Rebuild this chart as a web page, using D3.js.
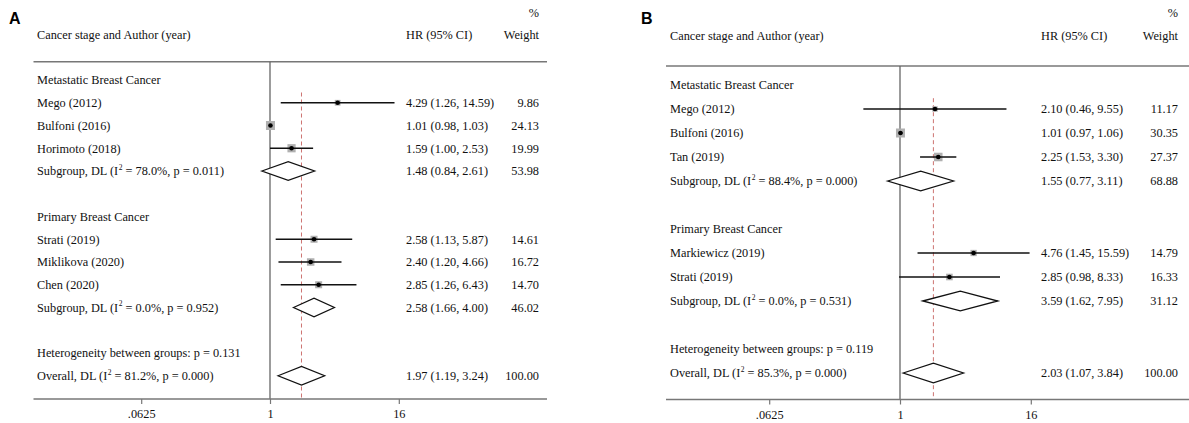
<!DOCTYPE html>
<html><head><meta charset="utf-8">
<script src="https://cdn.jsdelivr.net/npm/d3@7"></script>
<style>
html,body{margin:0;padding:0;background:#fff;}
svg{display:block;}
</style>
</head><body>
<svg id="chart" width="1189" height="423"></svg>
<script>
// ---------- data ----------
const groupNames = ["Metastatic Breast Cancer", "Primary Breast Cancer"];
const tickValues = [0.0625, 1, 16];
const tickLabels = [".0625", "1", "16"];

// Panel A
const aStudies = ["Mego (2012)", "Bulfoni (2016)", "Horimoto (2018)", "Strati (2019)", "Miklikova (2020)", "Chen (2020)"];
const aGroup   = [0, 0, 0, 1, 1, 1];
const aHR      = [4.29, 1.01, 1.59, 2.58, 2.40, 2.85];
const aLow     = [1.26, 0.98, 1.00, 1.13, 1.20, 1.26];
const aHigh    = [14.59, 1.03, 2.53, 5.87, 4.66, 6.43];
const aWeight  = [9.86, 24.13, 19.99, 14.61, 16.72, 14.70];
const aSubHR     = [1.48, 2.58];
const aSubLow    = [0.84, 1.66];
const aSubHigh   = [2.61, 4.00];
const aSubWeight = [53.98, 46.02];
const aSubI2     = ["78.0%", "0.0%"];
const aSubP      = ["0.011", "0.952"];
const aOverall   = [1.97, 1.19, 3.24];   // HR, low, high
const aOverallWeight = 100.00;
const aOverallI2 = "81.2%";
const aOverallP  = "0.000";
const aHetP      = "0.131";

// Panel B
const bStudies = ["Mego (2012)", "Bulfoni (2016)", "Tan (2019)", "Markiewicz (2019)", "Strati (2019)"];
const bGroup   = [0, 0, 0, 1, 1];
const bHR      = [2.10, 1.01, 2.25, 4.76, 2.85];
const bLow     = [0.46, 0.97, 1.53, 1.45, 0.98];
const bHigh    = [9.55, 1.06, 3.30, 15.59, 8.33];
const bWeight  = [11.17, 30.35, 27.37, 14.79, 16.33];
const bSubHR     = [1.55, 3.59];
const bSubLow    = [0.77, 1.62];
const bSubHigh   = [3.11, 7.95];
const bSubWeight = [68.88, 31.12];
const bSubI2     = ["88.4%", "0.0%"];
const bSubP      = ["0.000", "0.531"];
const bOverall   = [2.03, 1.07, 3.84];
const bOverallWeight = 100.00;
const bOverallI2 = "85.3%";
const bOverallP  = "0.000";
const bHetP      = "0.119";

// ---------- drawing ----------
const svg = d3.select("#chart");
const FONT = "'Liberation Serif','Times New Roman',serif";
const FS = 12.3;
const f2 = d3.format(".2f");

function buildRows(studies, group, hr, low, high, weight, subHR, subLow, subHigh, subW, subI2, subP, overall, overallW, overallI2, overallP, hetP) {
  const rows = [];
  groupNames.forEach((g, gi) => {
    rows.push({type: "group", label: g});
    studies.forEach((s, i) => {
      if (group[i] === gi) rows.push({type: "study", label: s, hr: hr[i], low: low[i], high: high[i], w: weight[i]});
    });
    rows.push({type: "sub", i2: subI2[gi], p: subP[gi], hr: subHR[gi], low: subLow[gi], high: subHigh[gi], w: subW[gi]});
    if (gi < groupNames.length - 1) rows.push({type: "blank"});
  });
  rows.push({type: "blank"});
  rows.push({type: "het", label: "Heterogeneity between groups: p = " + hetP});
  rows.push({type: "overall", i2: overallI2, p: overallP, hr: overall[0], low: overall[1], high: overall[2], w: overallW});
  return rows;
}

function drawPanel(rows, cfg) {
  const g = svg.append("g");
  const x = d3.scaleLog().base(2).domain([tickValues[0], tickValues[tickValues.length - 1]]).range(cfg.range);
  const y = i => cfg.row0 + i * cfg.step;
  const maxW = d3.max(rows.filter(r => r.type === "study"), r => r.w);
  const overallRow = rows.find(r => r.type === "overall");

  // panel letter
  g.append("text").attr("x", cfg.letterX).attr("y", 23.5)
    .attr("font-family", "'Liberation Sans',Arial,sans-serif").attr("font-weight", "bold")
    .attr("font-size", 16).attr("fill", "#000").text(cfg.letter);

  const txt = (xx, yy, s, anchor) => g.append("text").attr("x", xx).attr("y", yy).attr("dy", "0.35em")
      .attr("font-family", FONT).attr("font-size", FS).attr("fill", "#111")
      .attr("text-anchor", anchor || "start").text(s);

  // headers
  txt(cfg.labelX, cfg.headY, "Cancer stage and Author (year)");
  txt(cfg.hrX, cfg.headY, "HR (95% CI)");
  txt(cfg.wRight, cfg.headY, "Weight", "end");
  txt(cfg.wRight, 13, "%", "end");

  // top rule
  g.append("line").attr("x1", cfg.left).attr("x2", cfg.right).attr("y1", cfg.topY).attr("y2", cfg.topY)
    .attr("stroke", "#777").attr("stroke-width", 1.5);

  // null line
  g.append("line").attr("x1", x(1)).attr("x2", x(1)).attr("y1", cfg.topY).attr("y2", cfg.axisY)
    .attr("stroke", "#666").attr("stroke-width", 1.3);
  // overall dashed line
  g.append("line").attr("x1", x(overallRow.hr)).attr("x2", x(overallRow.hr))
    .attr("y1", y(1) - cfg.step * 0.45).attr("y2", cfg.axisY)
    .attr("stroke", "#c0504d").attr("stroke-opacity", 0.8).attr("stroke-width", 1).attr("stroke-dasharray", "4,3");

  // axis
  const axis = d3.axisBottom(x).tickValues(tickValues)
    .tickFormat((d, i) => tickLabels[i]).tickSizeOuter(0).tickSize(5);
  const ag = g.append("g").attr("transform", `translate(0,${cfg.axisY})`).call(axis);
  ag.select(".domain").remove();
  ag.selectAll(".tick line").attr("stroke", "#777").attr("stroke-width", 1.2);
  ag.selectAll(".tick text").attr("font-family", FONT).attr("font-size", FS).attr("fill", "#111").attr("dy", "0.9em");
  g.append("line").attr("x1", cfg.left).attr("x2", cfg.right).attr("y1", cfg.axisY).attr("y2", cfg.axisY)
    .attr("stroke", "#777").attr("stroke-width", 1.5);

  rows.forEach((r, i) => {
    const yy = y(i);
    if (r.type === "group" || r.type === "het") {
      txt(cfg.labelX, yy, r.label);
    } else if (r.type === "study") {
      txt(cfg.labelX, yy, r.label);
      const side = cfg.box * Math.sqrt(r.w / maxW);
      g.append("rect").attr("x", x(r.hr) - side / 2).attr("y", yy - side / 2)
        .attr("width", side).attr("height", side).attr("fill", "#b0b0b0");
      g.append("line").attr("x1", x(r.low)).attr("x2", x(r.high)).attr("y1", yy).attr("y2", yy)
        .attr("stroke", "#111").attr("stroke-width", 1.3);
      g.append("circle").attr("cx", x(r.hr)).attr("cy", yy).attr("r", 2.3).attr("fill", "#000");
      txt(cfg.hrX, yy, `${f2(r.hr)} (${f2(r.low)}, ${f2(r.high)})`);
      txt(cfg.wRight, yy, f2(r.w), "end");
    } else if (r.type === "sub" || r.type === "overall") {
      const t = g.append("text").attr("x", cfg.labelX).attr("y", yy).attr("dy", "0.35em")
        .attr("font-family", FONT).attr("font-size", FS).attr("fill", "#111");
      t.append("tspan").text((r.type === "sub" ? "Subgroup" : "Overall") + ", DL (I");
      t.append("tspan").attr("font-size", 7.5).attr("dy", -5.5).attr("dx", 0.5).text("2");
      t.append("tspan").attr("dy", 5.5).text(` = ${r.i2}, p = ${r.p})`);
      const h = cfg.step * 0.41;
      const pts = [[x(r.low), yy], [x(r.hr), yy - h], [x(r.high), yy], [x(r.hr), yy + h]];
      g.append("path").attr("d", d3.line()(pts) + "Z").attr("fill", "#fff")
        .attr("stroke", "#111").attr("stroke-width", 1.3).attr("stroke-linejoin", "miter");
      txt(cfg.hrX, yy, `${f2(r.hr)} (${f2(r.low)}, ${f2(r.high)})`);
      txt(cfg.wRight, yy, f2(r.w), "end");
    }
  });
}

const rowsA = buildRows(aStudies, aGroup, aHR, aLow, aHigh, aWeight, aSubHR, aSubLow, aSubHigh, aSubWeight, aSubI2, aSubP, aOverall, aOverallWeight, aOverallI2, aOverallP, aHetP);
const rowsB = buildRows(bStudies, bGroup, bHR, bLow, bHigh, bWeight, bSubHR, bSubLow, bSubHigh, bSubWeight, bSubI2, bSubP, bOverall, bOverallWeight, bOverallI2, bOverallP, bHetP);

drawPanel(rowsA, {letter: "A", letterX: 9, left: 33.5, right: 547, labelX: 37, hrX: 406, wRight: 539,
  headY: 35, topY: 61.7, row0: 80, step: 22.75, axisY: 399, range: [141.2, 398.8], box: 9});
drawPanel(rowsB, {letter: "B", letterX: 641, left: 666, right: 1189, labelX: 670, hrX: 1041, wRight: 1178,
  headY: 36, topY: 66, row0: 85, step: 24, axisY: 399.5, range: [769.2, 1030.8], box: 9});
</script>
</body></html>
